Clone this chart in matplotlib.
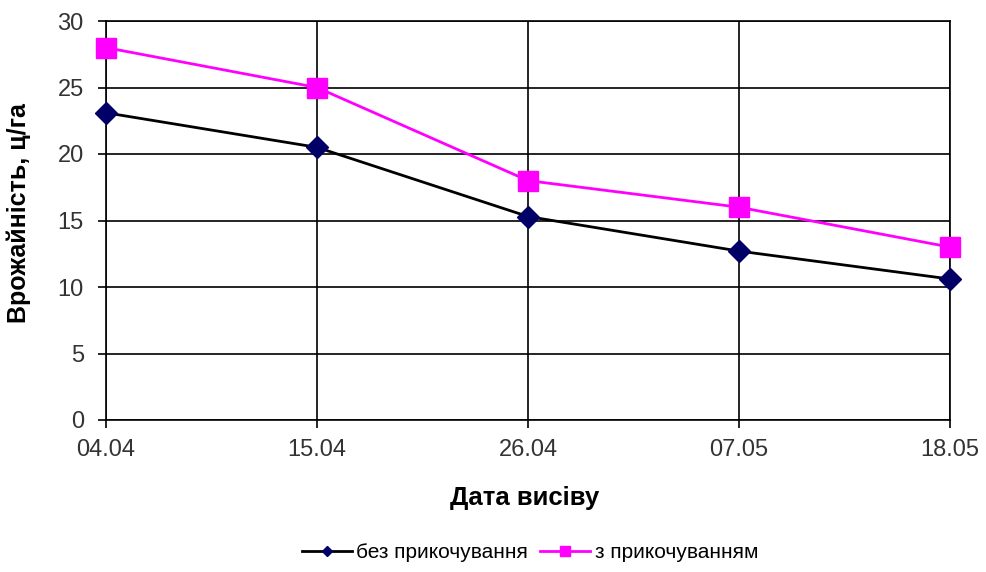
import matplotlib.pyplot as plt

plt.rcParams['font.family'] = ['Liberation Sans', 'DejaVu Sans']

dates = ['04.04', '15.04', '26.04', '07.05', '18.05']
no_rolling = [23.1, 20.5, 15.3, 12.7, 10.6]
with_rolling = [28.0, 25.0, 18.0, 16.0, 13.0]

fig = plt.figure(figsize=(9.86, 5.72), dpi=100)
ax = fig.add_axes([106/986, 1 - 420/572, (950-106)/986, (420-21)/572])

x = range(len(dates))
ax.plot(x, no_rolling, color='black', lw=2, marker='D', ms=11,
        mfc='#000066', mec='#000066', label='без прикочування', zorder=4,
        clip_on=False)
ax.plot(x, with_rolling, color='#ff00ff', lw=2, marker='s', ms=15,
        mfc='#ff00ff', mec='#ff00ff', label='з прикочуванням', zorder=3,
        clip_on=False)

ax.set_xlim(0, len(dates) - 1)
ax.set_ylim(0, 30)
ax.set_xticks(list(x))
ax.set_xticklabels(dates)
ax.set_yticks(range(0, 31, 5))
ax.grid(True, color='black', lw=1.2)
ax.set_axisbelow(True)
for s in ax.spines.values():
    s.set_color('black')
    s.set_linewidth(1.2)
ax.tick_params(axis='both', labelsize=17, colors='black', length=6, width=1.2,
               labelcolor='#333333')
ax.tick_params(axis='x', pad=8)
ax.tick_params(axis='y', pad=10)

ax.set_xlabel('Дата висіву', fontsize=18.5, fontweight='bold')
ax.set_ylabel('Врожайність, ц/га', fontsize=18, fontweight='bold')
ax.xaxis.set_label_coords(0.496, -0.165)
ax.yaxis.set_label_coords(-0.089, 0.519)

fig.legend(loc='center', bbox_to_anchor=(530/986, 1 - 553/572), ncol=2, frameon=False,
           fontsize=15, markerscale=0.5, handlelength=2.4, handletextpad=0.2,
           columnspacing=0.6)

fig.savefig('out.png', dpi=100, facecolor='white')
